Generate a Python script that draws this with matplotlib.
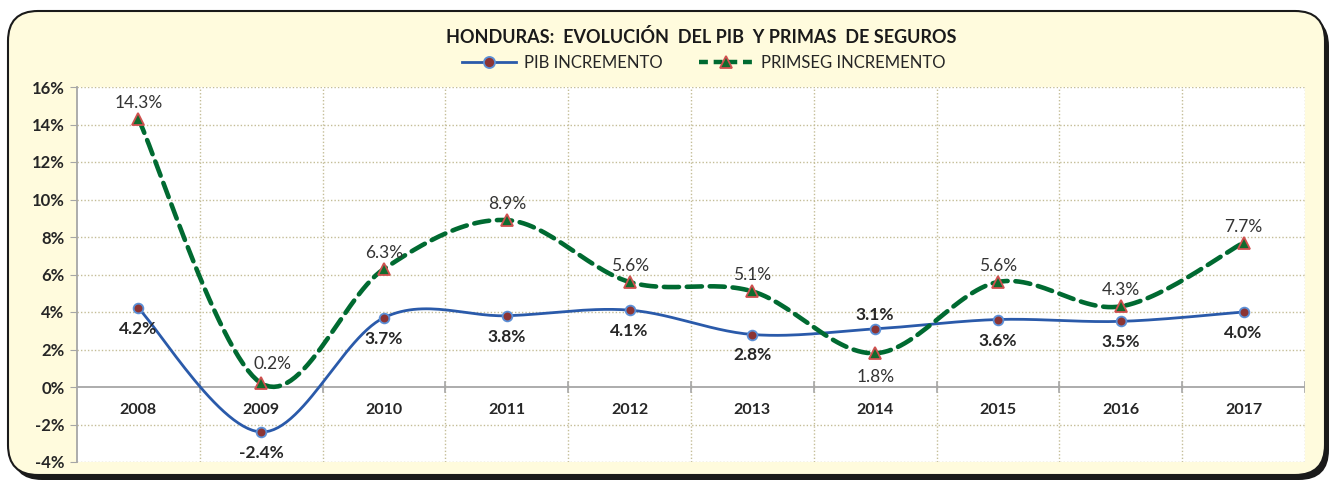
import numpy as np
import matplotlib
matplotlib.use('Agg')
import matplotlib.pyplot as plt
from matplotlib.patches import FancyBboxPatch
from matplotlib.lines import Line2D

plt.rcParams['font.family'] = ['Lato', 'DejaVu Sans']

years = ['2008', '2009', '2010', '2011', '2012', '2013', '2014', '2015', '2016', '2017']
pib = [4.2, -2.4, 3.7, 3.8, 4.1, 2.8, 3.1, 3.6, 3.5, 4.0]
primseg = [14.3, 0.2, 6.3, 8.9, 5.6, 5.1, 1.8, 5.6, 4.3, 7.7]
yticks = [-4, -2, 0, 2, 4, 6, 8, 10, 12, 14, 16]

title = 'HONDURAS:  EVOLUCIÓN  DEL PIB  Y PRIMAS  DE SEGUROS'
blue = '#2A5AAA'
green = '#006A31'
grid_col = '#C4BD97'


def smooth(x, y, n=30):
    '''Excel-like smoothed line: Bezier segments with Catmull-Rom controls.'''
    x = np.asarray(x, float)
    y = np.asarray(y, float)
    xs, ys = [], []
    for i in range(len(x) - 1):
        i0 = max(i - 1, 0)
        i3 = min(i + 2, len(x) - 1)
        p0 = np.array([x[i], y[i]])
        p3 = np.array([x[i + 1], y[i + 1]])
        p1 = p0 + (p3 - np.array([x[i0], y[i0]])) / 6.0
        p2 = p3 - (np.array([x[i3], y[i3]]) - p0) / 6.0
        t = np.linspace(0, 1, n)[:, None]
        pts = ((1 - t) ** 3) * p0 + 3 * ((1 - t) ** 2) * t * p1 \
            + 3 * (1 - t) * t ** 2 * p2 + t ** 3 * p3
        xs.extend(pts[:, 0])
        ys.extend(pts[:, 1])
    return xs, ys


fig = plt.figure(figsize=(13.33, 4.82), dpi=100)

# outer rounded frame with shadow
shadow = FancyBboxPatch((0.12, 0.02), 13.17, 4.64,
                        boxstyle='round,pad=0,rounding_size=0.3',
                        transform=fig.dpi_scale_trans, facecolor='#1a1a1a',
                        edgecolor='none', zorder=-2)
frame = FancyBboxPatch((0.08, 0.07), 13.17, 4.64,
                       boxstyle='round,pad=0,rounding_size=0.3',
                       transform=fig.dpi_scale_trans, facecolor='#FFFBDD',
                       edgecolor='#1a1a1a', linewidth=1.5, zorder=-1)
fig.patches.extend([shadow, frame])

ax = fig.add_axes([77 / 1333, 20 / 482, 1228 / 1333, 375 / 482])
ax.set_facecolor('white')
x = np.arange(len(years))

ax.set_xlim(-0.5, len(years) - 0.5)
ax.set_ylim(-4, 16)

# grid
for yv in yticks:
    if yv != 0:
        ax.axhline(yv, color=grid_col, lw=1.0, ls=(0, (1, 1.5)), zorder=1)
for xv in np.arange(0.5, len(years), 1):
    ax.axvline(xv, color=grid_col, lw=1.0, ls=(0, (1, 1.5)), zorder=1)
ax.axhline(0, color='#A6A6A6', lw=1.3, zorder=1.5)
for xv in np.arange(0.5, len(years), 1):
    ax.plot([xv, xv], [-0.25, 0.25], color='#A6A6A6', lw=1.2, zorder=1.5)

for s in ['top', 'right', 'bottom']:
    ax.spines[s].set_visible(False)
ax.spines['left'].set_color('#A6A6A6')
ax.spines['left'].set_linewidth(1.3)

ax.set_yticks(yticks)
ax.set_yticklabels(['%d%%' % v for v in yticks], fontsize=12,
                   fontweight='bold', color='#262626')
ax.tick_params(axis='y', direction='out', length=5, color='#A6A6A6', pad=4)
ax.set_xticks([])

for xi, yr in zip(x, years):
    ax.text(xi, -1.2, yr, ha='center', va='center', fontsize=11.5,
            fontweight='bold', color='#262626')

# lines
sx, sy = smooth(x, pib)
ax.plot(sx, sy, color=blue, lw=2.0, zorder=3)
ax.plot(x, pib, ls='none', marker='o', ms=7, mfc='#8C3434', mec='#5B8FD6',
        mew=1.3, zorder=4)

sx, sy = smooth(x, primseg)
ax.plot(sx, sy, color=green, lw=3.3, dashes=(3.3, 1.7), zorder=3,
        solid_capstyle='round', dash_capstyle='round')
ax.plot(x, primseg, ls='none', marker='^', ms=8, mfc='#116B2E', mec='#D0504F',
        mew=1.3, zorder=4)

# labels
for xi, v in zip(x, pib):
    if years[xi] == '2014':
        off = 14
    else:
        off = -21
    ax.annotate('%.1f%%' % v, (xi, v), xytext=(0, off), textcoords='offset pixels',
                ha='center', va='center', fontsize=12.5, fontweight='bold',
                color='#262626', zorder=5)
for xi, v in zip(x, primseg):
    dx = 0
    if years[xi] == '2014':
        off = -24
    elif years[xi] == '2009':
        off = 19
        dx = 11
    else:
        off = 16
    ax.annotate('%.1f%%' % v, (xi, v), xytext=(dx, off), textcoords='offset pixels',
                ha='center', va='center', fontsize=12.5, color='#333333', zorder=5)

fig.text(0.526, 1 - 37 / 482, title, ha='center', va='center', fontsize=13,
         fontweight='bold', color='#1a1a1a')

handles = [Line2D([], [], color=blue, lw=2.0, marker='o', ms=8, mfc='#8C3434',
                  mec='#5B8FD6', mew=1.3),
           Line2D([], [], color=green, lw=3.2, dashes=(2, 1.3), marker='^', ms=8,
                  mfc='#116B2E', mec='#D0504F', mew=1.3)]
fig.legend(handles, ['PIB INCREMENTO', 'PRIMSEG INCREMENTO'], loc='center',
           bbox_to_anchor=(0.528, 1 - 63 / 482), ncol=2, frameon=False,
           fontsize=12, handlelength=3.2, columnspacing=2.2, handletextpad=0.5,
           labelcolor='#262626')

fig.savefig('out.png', dpi=100)
